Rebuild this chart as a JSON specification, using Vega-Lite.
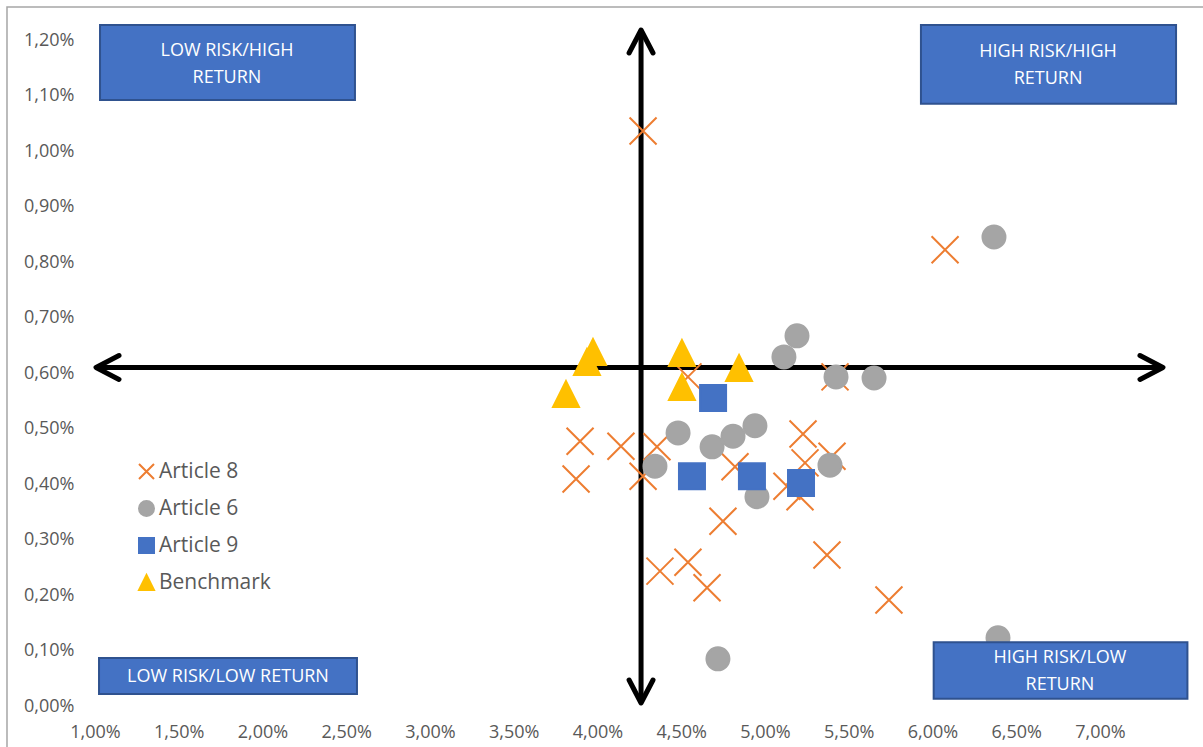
{
  "$schema": "https://vega.github.io/schema/vega-lite/v6.json",
  "width": 1095,
  "height": 666,
  "autosize": {"type": "none"},
  "padding": {"left": 95, "top": 40, "right": 13, "bottom": 41},
  "background": "white",
  "config": {"view": {"stroke": null}, "font": "Open Sans"},
  "datasets": {
    "frame": [{"x": 0.4746, "xe": 7.66, "y": 1.2595, "ye": -0.1}],
    "lines": [
      {"x": 1.006, "xe": 7.376, "y": 0.61, "ye": 0.61},
      {"x": 4.26, "xe": 4.26, "y": 1.218, "ye": 0.0054}
    ],
    "heads": [
      {"dir": "left", "x": 1.006, "y": 0.61},
      {"dir": "right", "x": 7.376, "y": 0.61},
      {"dir": "up", "x": 4.26, "y": 1.218},
      {"dir": "down", "x": 4.26, "y": 0.0054}
    ],
    "boxes": [
      {"x": 1.030, "xe": 2.552, "y": 1.227, "ye": 1.092},
      {"x": 5.931, "xe": 7.454, "y": 1.227, "ye": 1.085},
      {"x": 1.024, "xe": 2.564, "y": 0.0865, "ye": 0.0216},
      {"x": 6.007, "xe": 7.522, "y": 0.1148, "ye": 0.0132}
    ],
    "labels": [
      {"x": 1.788, "y": 1.181, "label": "LOW RISK/HIGH\nRETURN"},
      {"x": 6.690, "y": 1.178, "label": "HIGH RISK/HIGH\nRETURN"},
      {"x": 1.794, "y": 0.0523, "label": "LOW RISK/LOW RETURN"},
      {"x": 6.761, "y": 0.0865, "label": "HIGH RISK/LOW\nRETURN"}
    ],
    "points": [
      {"series": "Article 8", "x": 4.272, "y": 1.036},
      {"series": "Article 8", "x": 6.075, "y": 0.822},
      {"series": "Article 8", "x": 3.896, "y": 0.477},
      {"series": "Article 8", "x": 3.872, "y": 0.409},
      {"series": "Article 8", "x": 4.140, "y": 0.468},
      {"series": "Article 8", "x": 4.355, "y": 0.467},
      {"series": "Article 8", "x": 4.272, "y": 0.414},
      {"series": "Article 8", "x": 4.540, "y": 0.593},
      {"series": "Article 8", "x": 4.821, "y": 0.431},
      {"series": "Article 8", "x": 4.749, "y": 0.333},
      {"series": "Article 8", "x": 4.373, "y": 0.243},
      {"series": "Article 8", "x": 4.540, "y": 0.259},
      {"series": "Article 8", "x": 4.654, "y": 0.213},
      {"series": "Article 8", "x": 5.370, "y": 0.272},
      {"series": "Article 8", "x": 5.227, "y": 0.490},
      {"series": "Article 8", "x": 5.239, "y": 0.438},
      {"series": "Article 8", "x": 5.131, "y": 0.396},
      {"series": "Article 8", "x": 5.209, "y": 0.377},
      {"series": "Article 8", "x": 5.400, "y": 0.450},
      {"series": "Article 8", "x": 5.418, "y": 0.593},
      {"series": "Article 8", "x": 5.740, "y": 0.191},
      {"series": "Article 6", "x": 4.343, "y": 0.432},
      {"series": "Article 6", "x": 4.481, "y": 0.492},
      {"series": "Article 6", "x": 4.684, "y": 0.467},
      {"series": "Article 6", "x": 4.809, "y": 0.486},
      {"series": "Article 6", "x": 4.940, "y": 0.505},
      {"series": "Article 6", "x": 4.952, "y": 0.377},
      {"series": "Article 6", "x": 5.388, "y": 0.434},
      {"series": "Article 6", "x": 5.113, "y": 0.629},
      {"series": "Article 6", "x": 5.191, "y": 0.667},
      {"series": "Article 6", "x": 5.424, "y": 0.593},
      {"series": "Article 6", "x": 5.651, "y": 0.591},
      {"series": "Article 6", "x": 6.367, "y": 0.845},
      {"series": "Article 6", "x": 6.391, "y": 0.123},
      {"series": "Article 6", "x": 4.719, "y": 0.085},
      {"series": "Article 9", "x": 4.690, "y": 0.555},
      {"series": "Article 9", "x": 4.564, "y": 0.414},
      {"series": "Article 9", "x": 4.922, "y": 0.414},
      {"series": "Article 9", "x": 5.215, "y": 0.402},
      {"series": "Benchmark", "x": 3.937, "y": 0.620},
      {"series": "Benchmark", "x": 3.973, "y": 0.638},
      {"series": "Benchmark", "x": 3.812, "y": 0.562},
      {"series": "Benchmark", "x": 4.504, "y": 0.636},
      {"series": "Benchmark", "x": 4.504, "y": 0.575},
      {"series": "Benchmark", "x": 4.845, "y": 0.609}
    ]
  },
  "encoding": {
    "x": {
      "field": "x", "type": "quantitative", "title": null,
      "scale": {"domain": [1, 7.5373], "nice": false, "zero": false},
      "axis": {
        "values": [1, 1.5, 2, 2.5, 3, 3.5, 4, 4.5, 5, 5.5, 6, 6.5, 7],
        "labelExpr": "replace(format(datum.value, '.2f'), '.', ',') + '%'",
        "grid": false, "ticks": false, "tickSize": 0, "domain": false,
        "labelFont": "Open Sans", "labelFontSize": 18, "labelColor": "#595959",
        "labelPadding": 17, "labelFlush": false, "labelOverlap": false
      }
    },
    "y": {
      "field": "y", "type": "quantitative", "title": null,
      "scale": {"domain": [0, 1.2], "nice": false, "zero": false},
      "axis": {
        "values": [0, 0.1, 0.2, 0.3, 0.4, 0.5, 0.6, 0.7, 0.8, 0.9, 1.0, 1.1, 1.2],
        "labelExpr": "replace(format(datum.value, '.2f'), '.', ',') + '%'",
        "grid": false, "ticks": false, "tickSize": 0, "domain": false,
        "labelFont": "Open Sans", "labelFontSize": 18, "labelColor": "#595959",
        "labelPadding": 21, "labelFlush": false, "labelOverlap": false
      }
    }
  },
  "layer": [
    {
      "data": {"name": "frame"},
      "mark": {"type": "rect", "fill": "transparent", "stroke": "#A6A6A6", "strokeWidth": 1.5},
      "encoding": {"x2": {"field": "xe"}, "y2": {"field": "ye"}}
    },
    {
      "data": {"name": "lines"},
      "mark": {"type": "rule", "stroke": "black", "strokeWidth": 5},
      "encoding": {"x2": {"field": "xe"}, "y2": {"field": "ye"}}
    },
    {
      "data": {"name": "heads"},
      "transform": [{"filter": "datum.dir === 'up'"}],
      "mark": {"type": "point", "shape": "M-0.52,1L0,0L0.52,1", "filled": false, "stroke": "black", "strokeWidth": 5, "strokeCap": "round", "strokeJoin": "round", "size": 2116, "opacity": 1}
    },
    {
      "data": {"name": "heads"},
      "transform": [{"filter": "datum.dir === 'down'"}],
      "mark": {"type": "point", "shape": "M-0.52,-1L0,0L0.52,-1", "filled": false, "stroke": "black", "strokeWidth": 5, "strokeCap": "round", "strokeJoin": "round", "size": 2116, "opacity": 1}
    },
    {
      "data": {"name": "heads"},
      "transform": [{"filter": "datum.dir === 'left'"}],
      "mark": {"type": "point", "shape": "M1,-0.52L0,0L1,0.52", "filled": false, "stroke": "black", "strokeWidth": 5, "strokeCap": "round", "strokeJoin": "round", "size": 2116, "opacity": 1}
    },
    {
      "data": {"name": "heads"},
      "transform": [{"filter": "datum.dir === 'right'"}],
      "mark": {"type": "point", "shape": "M-1,-0.52L0,0L-1,0.52", "filled": false, "stroke": "black", "strokeWidth": 5, "strokeCap": "round", "strokeJoin": "round", "size": 2116, "opacity": 1}
    },
    {
      "data": {"name": "points"},
      "encoding": {
        "color": {
          "field": "series", "type": "nominal", "title": null,
          "scale": {"domain": ["Article 8", "Article 6", "Article 9", "Benchmark"], "range": ["#ED7D31", "#A5A5A5", "#4472C4", "#FFC000"]},
          "legend": {"orient": "none", "legendX": 41, "legendY": 421, "padding": 0, "labelFont": "Open Sans", "labelFontSize": 21, "labelColor": "#595959", "symbolSize": 225, "rowPadding": 14, "labelOffset": 2, "symbolStrokeWidth": 2}
        },
        "stroke": {
          "field": "series", "type": "nominal", "title": null,
          "scale": {"domain": ["Article 8", "Article 6", "Article 9", "Benchmark"], "range": ["#ED7D31", "#A5A5A5", "#4472C4", "#FFC000"]}
        },
        "shape": {
          "field": "series", "type": "nominal", "title": null,
          "scale": {"domain": ["Article 8", "Article 6", "Article 9", "Benchmark"], "range": ["M-1,-1L1,1M-1,1L1,-1", "circle", "square", "M0,-1L1,1L-1,1Z"]}
        }
      },
      "layer": [
        {"transform": [{"filter": "datum.series === 'Article 8'"}], "mark": {"type": "point", "filled": true, "opacity": 1, "strokeWidth": 2, "size": 729}},
        {"transform": [{"filter": "datum.series === 'Article 6'"}], "mark": {"type": "point", "filled": true, "opacity": 1, "strokeWidth": 2, "size": 529}},
        {"transform": [{"filter": "datum.series === 'Article 9'"}], "mark": {"type": "point", "filled": true, "opacity": 1, "strokeWidth": 2, "size": 676}},
        {"transform": [{"filter": "datum.series === 'Benchmark'"}], "mark": {"type": "point", "filled": true, "opacity": 1, "strokeWidth": 2, "size": 676}}
      ]
    },
    {
      "data": {"name": "boxes"},
      "mark": {"type": "rect", "fill": "#4472C4", "stroke": "#2F528F", "strokeWidth": 2},
      "encoding": {"x2": {"field": "xe"}, "y2": {"field": "ye"}}
    },
    {
      "data": {"name": "labels"},
      "mark": {"type": "text", "color": "white", "font": "Open Sans", "fontSize": 18, "lineBreak": "\n", "lineHeight": 27, "align": "center", "baseline": "middle"},
      "encoding": {"text": {"field": "label"}}
    }
  ]
}
